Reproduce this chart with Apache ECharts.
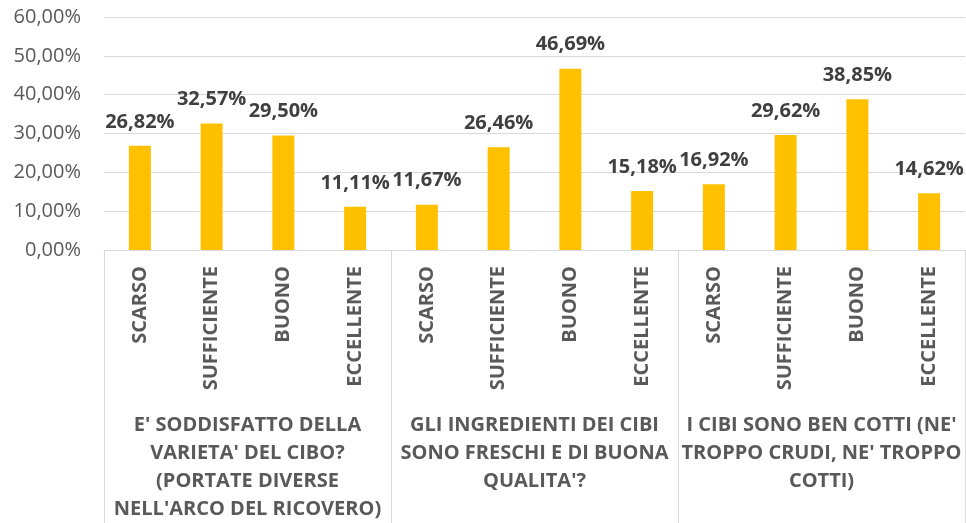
<!DOCTYPE html>
<html>
<head>
<meta charset="utf-8">
<script src="https://cdn.jsdelivr.net/npm/echarts@6/dist/echarts.min.js"></script>
<style>
  html, body { margin: 0; padding: 0; background: #fff; }
  #chart { width: 966px; height: 523px; }
</style>
</head>
<body>
<div id="chart"></div>
<script>
// categorie (livello interno) e domande (livello esterno)
const voti = ['SCARSO', 'SUFFICIENTE', 'BUONO', 'ECCELLENTE'];
const domande = [
  "E' SODDISFATTO DELLA\nVARIETA' DEL CIBO?\n(PORTATE DIVERSE\nNELL'ARCO DEL RICOVERO)",
  "GLI INGREDIENTI DEI CIBI\nSONO FRESCHI E DI BUONA\nQUALITA'?",
  "I CIBI SONO BEN COTTI (NE'\nTROPPO CRUDI, NE' TROPPO\nCOTTI)"
];
// percentuali
const valori = [26.82, 32.57, 29.50, 11.11, 11.67, 26.46, 46.69, 15.18, 16.92, 29.62, 38.85, 14.62];
const yTicks = { min: 0, max: 60, step: 10 };

// etichette dell'asse interno ripetute per ogni domanda
let categorie = [];
domande.forEach(function () {
  voti.forEach(function (v) { categorie.push(v); });
});

function perc(v) {
  return Number(v).toFixed(2).replace('.', ',') + '%';
}

let myChart = echarts.init(document.getElementById('chart'));
let option = {
  animation: false,
  textStyle: { fontFamily: 'Open Sans' },
  grid: { left: 104, right: 1, top: 17, bottom: 273, containLabel: false, outerBoundsMode: 'none' },
  xAxis: [{
    type: 'category',
    data: categorie,
    position: 'bottom',
    axisLine: { show: true, lineStyle: { color: '#D9D9D9', width: 1 } },
    axisTick: { show: false },
    axisLabel: {
      interval: 0,
      rotate: 90,
      margin: 16,
      color: '#595959',
      fontFamily: 'Open Sans',
      fontWeight: 'bold',
      fontSize: 20
    }
  }, {
    type: 'category',
    data: domande,
    position: 'bottom',
    boundaryGap: true,
    axisLine: { show: false },
    axisTick: { show: true, interval: 0, length: 273, lineStyle: { color: '#D9D9D9', width: 1 } },
    axisLabel: {
      interval: 0,
      margin: 161,
      color: '#595959',
      fontFamily: 'Open Sans',
      fontWeight: 'bold',
      fontSize: 20,
      lineHeight: 28,
      align: 'center',
      verticalAlign: 'top'
    }
  }],
  yAxis: {
    type: 'value',
    min: yTicks.min,
    max: yTicks.max,
    interval: yTicks.step,
    axisLine: { show: false },
    axisTick: { show: false },
    splitLine: { lineStyle: { color: '#D9D9D9', width: 1 } },
    axisLabel: {
      margin: 23,
      color: '#595959',
      fontFamily: 'Open Sans',
      fontSize: 20,
      formatter: perc
    }
  },
  series: [{
    type: 'bar',
    xAxisIndex: 0,
    data: valori,
    barWidth: 22,
    itemStyle: { color: '#FFC000' },
    label: {
      show: true,
      position: 'top',
      distance: 14,
      color: '#404040',
      fontFamily: 'Open Sans',
      fontWeight: 'bold',
      fontSize: 20,
      formatter: function (p) { return perc(p.value); }
    }
  }]
};
myChart.setOption(option);
</script>
</body>
</html>
